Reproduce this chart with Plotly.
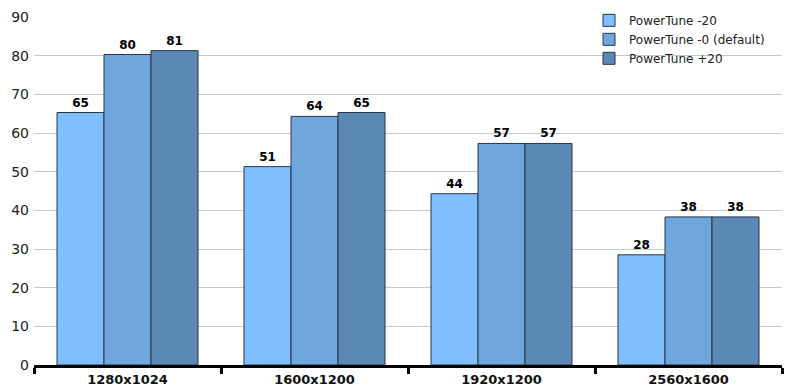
import plotly.graph_objects as go

categories = ["1280x1024", "1600x1200", "1920x1200", "2560x1600"]
series_names = ["PowerTune -20", "PowerTune -0 (default)", "PowerTune +20"]
pt_minus20 = [65.3, 51.3, 44.3, 28.5]
pt_zero = [80.3, 64.3, 57.3, 38.3]
pt_plus20 = [81.3, 65.3, 57.3, 38.3]
labels_minus20 = ["65", "51", "44", "28"]
labels_zero = ["80", "64", "57", "38"]
labels_plus20 = ["81", "65", "57", "38"]
y_ticks = [0, 10, 20, 30, 40, 50, 60, 70, 80, 90]

colors = ["#80bfff", "#6fa6de", "#5b88b5"]
FONT = "Verdana, DejaVu Sans, sans-serif"

fig = go.Figure()
for name, vals, labs, col in zip(series_names,
                                 [pt_minus20, pt_zero, pt_plus20],
                                 [labels_minus20, labels_zero, labels_plus20],
                                 colors):
    fig.add_trace(go.Bar(
        x=categories, y=vals, name=name,
        text=[f"<b>{t}</b>" for t in labs],
        textposition="outside",
        textfont=dict(family=FONT, size=12, color="#000"),
        marker=dict(color=col, line=dict(color="#26354a", width=1)),
        cliponaxis=False,
    ))

fig.update_layout(
    width=807, height=389,
    margin=dict(l=34, r=25, t=17, b=24, autoexpand=False),
    paper_bgcolor="white", plot_bgcolor="white",
    barmode="group", bargap=0.246, bargroupgap=0,
    font=dict(family=FONT, color="#222"),
    showlegend=True,
    legend=dict(x=0.742, y=0.985, yref="container",
                xanchor="left", yanchor="top",
                font=dict(family=FONT, size=12, color="#222"),
                bgcolor="rgba(0,0,0,0)", tracegroupgap=0,
                itemwidth=30),
    xaxis=dict(
        showline=True, linecolor="#000", linewidth=3,
        ticks="outside", tickson="boundaries", ticklen=6, tickwidth=3,
        tickcolor="#000",
        tickfont=dict(family=FONT, size=13, color="#111", weight="bold"),
        showgrid=False, automargin=False,
    ),
    yaxis=dict(
        range=[0, 90], tickvals=y_ticks,
        showgrid=True, gridcolor="#c8c8c8", gridwidth=1,
        zeroline=False, showline=False, automargin=False,
        tickfont=dict(family=FONT, size=14, color="#222"),
        ticks="", ticklabelstandoff=4,
    ),
)

fig.write_html("out.html")
